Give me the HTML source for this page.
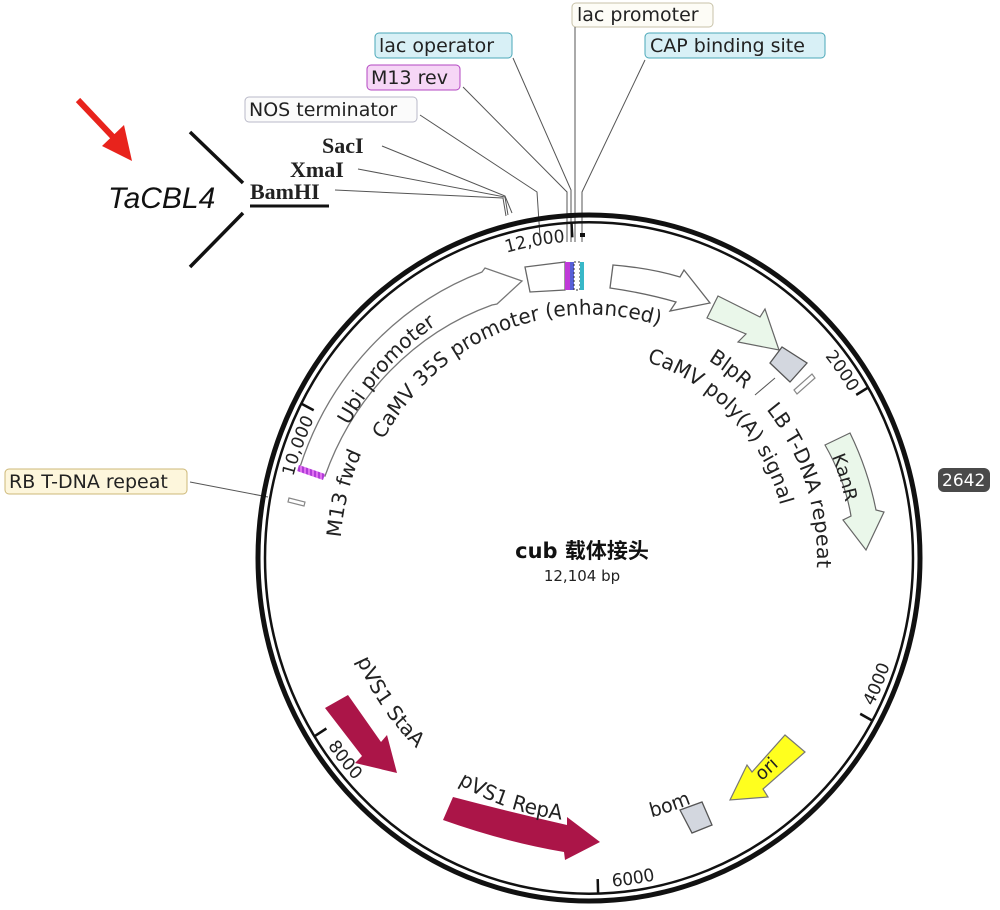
<!DOCTYPE html>
<html><head><meta charset="utf-8"><style>
html,body{margin:0;padding:0;background:#fff;}
svg{display:block;}
.f{font-family:"DejaVu Sans","Liberation Sans",sans-serif;fill:#222;}
</style></head><body>
<svg width="1000" height="910" viewBox="0 0 1000 910" xmlns="http://www.w3.org/2000/svg">
<defs>
<pattern id="hm" width="4" height="4" patternUnits="userSpaceOnUse"><rect width="4" height="4" fill="#b03cd8"/><rect width="2" height="4" fill="#e070f0"/></pattern>
</defs>

<g class="f" font-size="19">
<rect x="572" y="3" width="141" height="24" rx="4" fill="#fdfcf6" stroke="#c8c2a8"/>
<text x="577" y="21">lac promoter</text>
<rect x="645" y="33" width="180" height="25" rx="4" fill="#d8f0f6" stroke="#4aa7b8"/>
<text x="650" y="52">CAP binding site</text>
<rect x="375" y="33" width="137" height="25" rx="4" fill="#d8f0f6" stroke="#4aa7b8"/>
<text x="379" y="52">lac operator</text>
<rect x="367" y="65" width="93" height="25" rx="4" fill="#f6d6f6" stroke="#b347c2"/>
<text x="371" y="84">M13 rev</text>
<rect x="245" y="97" width="172" height="25" rx="4" fill="#fbfbfb" stroke="#b8b8c8"/>
<text x="249" y="116">NOS terminator</text>
<rect x="5" y="469" width="182" height="25" rx="4" fill="#fdf6dc" stroke="#cdb878"/>
<text x="9" y="488">RB T-DNA repeat</text>
<rect x="938" y="468" width="52" height="24" rx="6" fill="#4a4a4a"/>
<text x="942" y="486" font-size="17" style="fill:#fff">2642</text>
</g>

<g font-family="'Liberation Serif','DejaVu Serif',serif" font-weight="bold" font-size="22" fill="#222">
<text x="322" y="153">SacI</text>
<text x="290" y="177">XmaI</text>
<text x="250" y="199">BamHI</text>
</g>
<line x1="250" y1="206" x2="329" y2="206" stroke="#111" stroke-width="3"/>
<text x="108" y="208" font-family="'Liberation Sans',sans-serif" font-style="italic" font-size="30" fill="#111">TaCBL4</text>
<line x1="190" y1="132" x2="243" y2="183" stroke="#111" stroke-width="3.5"/>
<line x1="243" y1="213" x2="190" y2="267" stroke="#111" stroke-width="3.5"/>
<line x1="78" y1="100" x2="114" y2="138" stroke="#e8231c" stroke-width="6"/>
<polygon points="132,161 102,146 124,125" fill="#e8231c"/>

<g stroke="#555" stroke-width="1" fill="none">
<polyline points="382,146 505,196 512,213"/>
<polyline points="358,169 505,197 508,215"/>
<polyline points="335,190 503,198 506,216"/>
<polyline points="420,115 537,192 540,237"/>
<polyline points="463,87 567,192 567,242"/>
<polyline points="513,58 571,190 571,242"/>
<polyline points="575,27 575,242"/>
<polyline points="645,60 582,192 582,242"/>
<line x1="190" y1="482" x2="268" y2="497"/>
<line x1="755" y1="395" x2="775" y2="378"/>
</g>
<rect x="580" y="233" width="5" height="4" fill="#111"/>

<ellipse cx="589" cy="558" rx="331" ry="343" fill="none" stroke="#111" stroke-width="5"/>
<ellipse cx="589" cy="558" rx="324" ry="335.7" fill="none" stroke="#111" stroke-width="2.5"/>

<path d="M300,467 A300 315 0 0 1 482,272 L485,268 L522,281 L497,304 L492,305 A272 287 0 0 0 325,476 Z" fill="#fff" stroke="#777" stroke-width="1.3"/>
<polygon points="299,465 325,474 323,480 297,471" fill="url(#hm)"/>
<polygon points="525,267 565,262 565,290 530,292" fill="#fff" stroke="#666" stroke-width="1.3"/>
<rect x="565" y="262" width="5" height="28" fill="#c03ad8"/>
<rect x="570" y="262" width="4" height="28" fill="#5860d8"/>
<rect x="574" y="262" width="6" height="28" fill="#fff" stroke="#333" stroke-width="1" stroke-dasharray="2,2"/>
<rect x="580" y="262" width="4" height="28" fill="#38b8c8"/>
<path d="M613,265 Q650,268 680,277 L684,270 L710,303 L670,311 L676,302 Q645,293 610,288 Z" fill="#fff" stroke="#666" stroke-width="1.3"/>
<polygon points="718,296 760,317 765,309 779,350 738,342 746,334 707,318" fill="#eaf7ea" stroke="#666" stroke-width="1.2"/>
<polygon points="770,363 782,347 807,363 790,382" fill="#d3d7df" stroke="#555" stroke-width="1.3"/>
<polygon points="794,390 812,374 815,378 797,394" fill="#fff" stroke="#888" stroke-width="1.2"/>
<polygon points="289,498 305,502 304,506 288,502" fill="#fff" stroke="#888" stroke-width="1.2"/>
<path d="M825,445 L850,433 Q868,470 876,510 L884,512 L866,550 L843,520 L851,516 Q845,480 825,445 Z" fill="#eaf7ea" stroke="#666" stroke-width="1.2"/>
<polygon points="785,735 805,752 763,789 768,797 730,800 747,765 752,772" fill="#ffff1e" stroke="#777" stroke-width="1.2"/>
<polygon points="680,810 702,802 712,825 692,833" fill="#d3d7df" stroke="#555" stroke-width="1.3"/>
<polygon points="325,708 348,695 381,742 387,735 397,773 355,763 362,756" fill="#ab1548"/>
<path d="M453,797 Q510,812 567,825 L567,817 L600,842 L565,860 L564,852 Q505,842 443,820 Z" fill="#ab1548"/>

<g transform="translate(589,558) scale(1,1.036)">
<defs>
<path id="pUbi" d="M-240.2,-127.7 A272 272 0 0 1 -115,-246.5"/>
<path id="pCaMV" d="M-205.6,-113.9 A235 235 0 0 1 117.5,-203.5"/>
<path id="pM13" d="M-248.2,-19.5 A249 249 0 0 1 -215.6,-124.5"/>
<path id="pBlp" d="M119.2,-190.8 A225 225 0 0 1 184.3,-129.1"/>
<path id="pPoly" d="M57.9,-189.3 A198 198 0 0 1 197.2,-17.3"/>
<path id="pLB" d="M177.2,-143.4 A228 228 0 0 1 224.6,39.6"/>
<path id="pKan" d="M242.9,-98.1 A262 262 0 0 1 262,0"/>
<path id="pSta" d="M-232,98.5 A252 252 0 0 0 -133.5,213.7"/>
<path id="pRep" d="M-130.9,217.7 A254 254 0 0 0 22.1,253"/>
<path id="pBom" d="M62.4,250.3 A258 258 0 0 0 148,211.3"/>
<path id="pOri" d="M166.1,220.5 A276 276 0 0 0 226,158.4"/>
<path id="t12" d="M-196.7,-234.4 A306 306 0 0 1 -24,-305"/>
<path id="t2" d="M104.7,-287.5 A306 306 0 0 1 261,-159.7"/>
<path id="t10" d="M-287.5,104.7 A306 306 0 0 1 -275,-134.1"/>
<path id="t4" d="M282.2,147 A318 318 0 0 0 313.2,-55.2"/>
<path id="t6" d="M19.4,317.4 A318 318 0 0 0 204.4,243.6"/>
<path id="t8" d="M-263.6,177.8 A318 318 0 0 0 -108.8,298.8"/>
</defs>
<g stroke="#111" stroke-width="2.5">
<line x1="-17.5" y1="-323.5" x2="-16.7" y2="-309.5"/>
<line x1="279.2" y1="-164.6" x2="267.2" y2="-157.5"/>
<line x1="283.5" y1="157.1" x2="271.2" y2="150.4"/>
<line x1="9.1" y1="323.9" x2="8.7" y2="309.9"/>
<line x1="-274.4" y1="172.0" x2="-262.6" y2="164.6"/>
<line x1="-287.7" y1="-149.0" x2="-275.3" y2="-142.6"/>
</g>
<g class="f" font-size="20">
<text><textPath href="#pUbi">Ubi promoter</textPath></text>
<text><textPath href="#pCaMV">CaMV 35S promoter (enhanced)</textPath></text>
<text><textPath href="#pM13">M13 fwd</textPath></text>
<text><textPath href="#pBlp">BlpR</textPath></text>
<text><textPath href="#pPoly">CaMV poly(A) signal</textPath></text>
<text><textPath href="#pLB">LB T-DNA repeat</textPath></text>
<text font-size="18"><textPath href="#pKan">KanR</textPath></text>
<text><textPath href="#pSta">pVS1 StaA</textPath></text>
<text><textPath href="#pRep">pVS1 RepA</textPath></text>
<text font-size="19"><textPath href="#pBom">bom</textPath></text>
<text font-size="18"><textPath href="#pOri" startOffset="8">ori</textPath></text>
</g>
<g class="f" font-size="17">
<text text-anchor="end"><textPath href="#t12" startOffset="100%">12,000</textPath></text>
<text text-anchor="end"><textPath href="#t2" startOffset="100%">2000</textPath></text>
<text text-anchor="end"><textPath href="#t10" startOffset="100%">10,000</textPath></text>
<text><textPath href="#t4" startOffset="4">4000</textPath></text>
<text><textPath href="#t6" startOffset="4">6000</textPath></text>
<text><textPath href="#t8" startOffset="4">8000</textPath></text>
</g>
</g>

<text x="582" y="558" text-anchor="middle" font-family="'DejaVu Sans','Noto Sans CJK SC',sans-serif" font-weight="bold" font-size="21" fill="#111">cub 载体接头</text>
<text x="582" y="581" text-anchor="middle" class="f" font-size="15">12,104 bp</text>
</svg>
</body></html>
